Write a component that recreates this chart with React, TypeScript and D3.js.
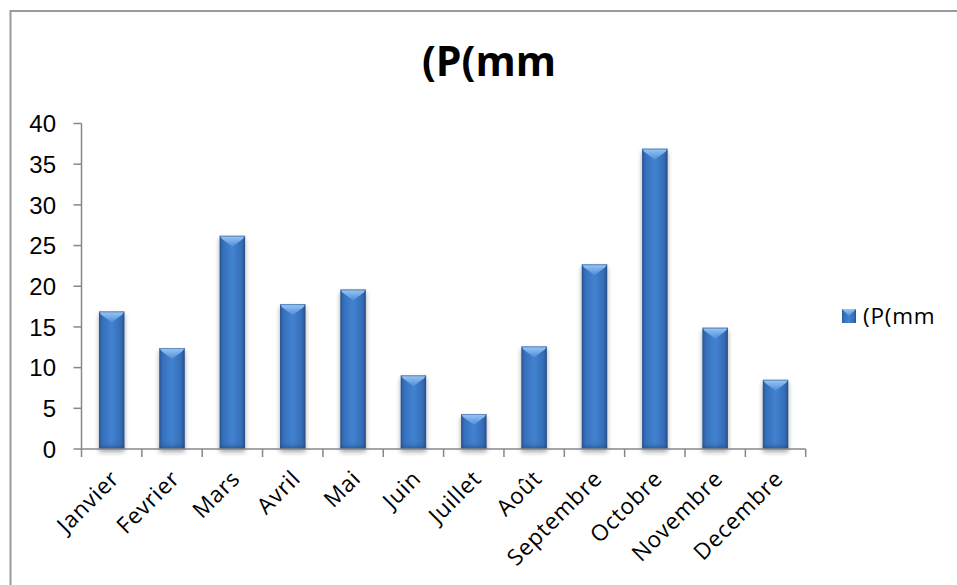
import React from "react";
import * as d3 from "d3";

const months = ["Janvier", "Fevrier", "Mars", "Avril", "Mai", "Juin", "Juillet", "Août", "Septembre", "Octobre", "Novembre", "Decembre"];
const values = [16.9, 12.4, 26.2, 17.8, 19.6, 9.05, 4.3, 12.6, 22.7, 36.9, 14.9, 8.5];
const yTicks = [0, 5, 10, 15, 20, 25, 30, 35, 40];
const seriesName = "(P(mm";
const title = "(P(mm";

const W = 957, H = 585;
const X0 = 81.5, X1 = 805.7, Y0 = 449, Y1 = 123.5;

export default function App() {
  const x = d3.scaleBand<string>().domain(months).range([X0, X1]).paddingInner(0.58).paddingOuter(0.29);
  const y = d3.scaleLinear().domain([0, 40]).range([Y0, Y1]);
  const bw = x.bandwidth();
  const step = x.step();
  const axisColor = "#878787";
  const labelFont = "'Open Sans', 'Noto Sans', sans-serif";

  return (
    <svg width={W} height={H} style={{ position: "absolute", left: 0, top: 0, background: "#fff" }}>
      <defs>
        <linearGradient id="barG" x1="0" y1="0" x2="1" y2="0">
          <stop offset="0%" stopColor="#295896" />
          <stop offset="14%" stopColor="#3670bd" />
          <stop offset="50%" stopColor="#4282d0" />
          <stop offset="86%" stopColor="#356db7" />
          <stop offset="100%" stopColor="#27508a" />
        </linearGradient>
        <linearGradient id="bevG" x1="0" y1="0" x2="0" y2="1">
          <stop offset="0%" stopColor="#9cc8f6" />
          <stop offset="100%" stopColor="#4d8cd8" />
        </linearGradient>
        <linearGradient id="botG" x1="0" y1="0" x2="0" y2="1">
          <stop offset="0%" stopColor="#3a72bc" stopOpacity="0" />
          <stop offset="100%" stopColor="#1f4577" stopOpacity="0.6" />
        </linearGradient>
        <filter id="shadow" x="-30%" y="-10%" width="160%" height="130%">
          <feGaussianBlur in="SourceAlpha" stdDeviation="2.5" />
          <feOffset dx="0" dy="3" result="b" />
          <feComponentTransfer>
            <feFuncA type="linear" slope="0.35" />
          </feComponentTransfer>
          <feMerge>
            <feMergeNode />
            <feMergeNode in="SourceGraphic" />
          </feMerge>
        </filter>
      </defs>

      {/* outer border */}
      <rect x={10.5} y={11} width={1200} height={1200} fill="none" stroke="#9a9a9a" strokeWidth={2} />

      {/* title */}
      <text x={489} y={76} textAnchor="middle" fontFamily={labelFont} fontWeight={700} fontSize={41} fill="#000">
        {title}
      </text>

      {/* bars */}
      {months.map((m, i) => {
        const bx = x(m)!;
        const top = y(values[i]);
        const h = Y0 - top;
        const cx = bx + bw / 2;
        const bev = Math.min(11, h / 2);
        return (
          <g key={m} filter="url(#shadow)">
            <rect x={bx} y={top} width={bw} height={h} fill="url(#barG)" />
            <polygon
              points={`${bx},${top} ${bx + bw},${top} ${bx + bw - 2},${top + 3} ${cx},${top + bev} ${bx + 2},${top + 3}`}
              fill="url(#bevG)"
            />
            <rect x={bx} y={Y0 - 8} width={bw} height={8} fill="url(#botG)" />
            <rect x={bx + 0.5} y={top + 0.5} width={bw - 1} height={h - 1} fill="none" stroke="#2a5490" strokeOpacity={0.5} strokeWidth={1} />
          </g>
        );
      })}

      {/* y axis */}
      <line x1={X0} x2={X0} y1={Y1} y2={Y0} stroke={axisColor} strokeWidth={1.5} />
      {yTicks.map((t) => (
        <g key={t}>
          <line x1={X0 - 8} x2={X0} y1={y(t)} y2={y(t)} stroke={axisColor} strokeWidth={1.5} />
          <text x={56} y={y(t)} dy="0.36em" textAnchor="end" fontFamily="'Liberation Sans', Arial, sans-serif" fontSize={24} fill="#000">
            {t}
          </text>
        </g>
      ))}

      {/* x axis */}
      <line x1={X0} x2={X1} y1={Y0} y2={Y0} stroke={axisColor} strokeWidth={1.5} />
      {d3.range(months.length + 1).map((i) => (
        <line key={i} x1={X0 + i * step} x2={X0 + i * step} y1={Y0} y2={Y0 + 8} stroke={axisColor} strokeWidth={1.5} />
      ))}
      {months.map((m) => {
        const cx = x(m)! + bw / 2;
        return (
          <text
            key={m}
            transform={`translate(${cx + 9},${Y0 + 31}) rotate(-45)`}
            textAnchor="end"
            fontFamily={labelFont}
            fontSize={22.5}
            letterSpacing={0.8}
            fill="#000"
          >
            {m}
          </text>
        );
      })}

      {/* legend */}
      <g>
        <rect x={842} y={309} width={14} height={14} fill="url(#barG)" />
        <polygon points="842,309 856,309 849,316" fill="url(#bevG)" />
        <text x={863} y={324.3} fontFamily={labelFont} fontSize={22.5} letterSpacing={0.8} fill="#000">
          {seriesName}
        </text>
      </g>
    </svg>
  );
}
